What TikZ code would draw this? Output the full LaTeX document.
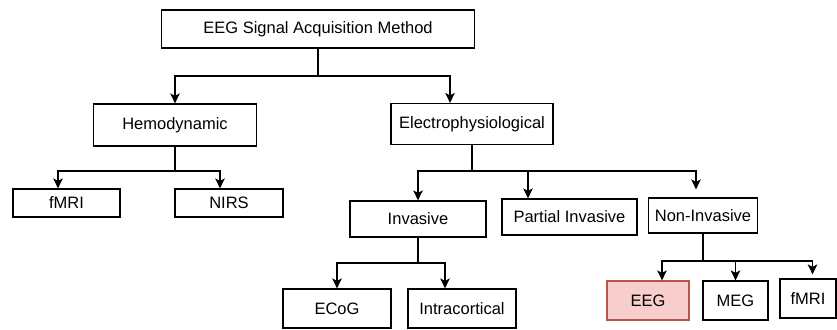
\documentclass[tikz,border=0pt]{standalone}
\usepackage{fontspec}
\setmainfont{Liberation Sans}
\usetikzlibrary{arrows.meta}

\definecolor{eegfill}{HTML}{F8CECC}
\definecolor{eegline}{HTML}{B85450}

\tikzset{
    box/.style={draw, rectangle, line width=1.2pt, inner sep=0pt, font=\fontsize{16.5}{19}\selectfont},
    link/.style={line width=1.3pt, -{Stealth[length=10pt, width=9.5pt, inset=2.5pt]}},
    stem/.style={line width=1.3pt}
}

\begin{document}
\begin{tikzpicture}[x=1pt, y=-1pt]
    \useasboundingbox (0,0) rectangle (837,329);

    % Root
    \node[box, minimum width=313pt, minimum height=38pt] (root) at (318,29) {EEG Signal Acquisition Method};

    % Two families
    \node[box, minimum width=163pt, minimum height=42pt] (hemo) at (175,125) {Hemodynamic};
    \node[box, minimum width=162pt, minimum height=41pt] (electro) at (472,124) {Electrophysiological};

    % Hemodynamic methods
    \node[box, minimum width=107pt, minimum height=28pt] (fmri) at (66.5,203) {fMRI};
    \node[box, minimum width=108pt, minimum height=28pt] (nirs) at (229,203) {NIRS};

    % Electrophysiological methods
    \node[box, minimum width=136pt, minimum height=36pt] (invasive) at (418,219) {Invasive};
    \node[box, minimum width=135pt, minimum height=36pt] (partial) at (569.5,217) {Partial Invasive};
    \node[box, minimum width=109pt, minimum height=35pt] (noninv) at (703,215.5) {Non-Invasive};

    % Invasive recordings
    \node[box, minimum width=108pt, minimum height=39pt] (ecog) at (337,308.5) {ECoG};
    \node[box, minimum width=108pt, minimum height=39pt] (intra) at (462,308.5) {Intracortical};

    % Non-invasive recordings
    \node[box, minimum width=82pt, minimum height=39pt, fill=eegfill, draw=eegline] (eeg) at (648,300.5) {EEG};
    \node[box, minimum width=65pt, minimum height=39pt] (meg) at (735.5,300.5) {MEG};
    \node[box, minimum width=56pt, minimum height=39pt] (fmritwo) at (808,298.5) {fMRI};

    % Root to families
    \draw[stem] (root.south) -- (318,76);
    \draw[link] (318,76) -| (hemo.north);
    \draw[link] (318,76) -| ([xshift=-22pt]electro.north);

    % Hemodynamic split
    \draw[stem] (hemo.south) -- (175,171);
    \draw[link] (175,171) -| ([xshift=-8.5pt]fmri.north);
    \draw[link] (175,171) -| ([xshift=-9pt]nirs.north);

    % Electrophysiological split
    \draw[stem] (electro.south) -- (472,171);
    \draw[link] (472,171) -| (invasive.north);
    \draw[link] (472,171) -| ([xshift=-41.5pt]partial.north);
    \draw[link, shorten >=8pt] (472,171) -| ([xshift=-7pt]noninv.north);

    % Invasive split
    \draw[stem] (invasive.south) -- (418,263);
    \draw[link] (418,263) -| (ecog.north);
    \draw[link] (418,263) -| ([xshift=-17pt]intra.north);

    % Non-invasive split
    \draw[stem] (noninv.south) -- (703,261);
    \draw[line width=2.4pt] (675,261) -- (729,261);
    \draw[link] (703,261) -| ([xshift=14pt]eeg.north);
    \draw[link] (703,261) -| (meg.north);
    \draw[link, shorten >=4pt] (703,261) -| ([xshift=4.5pt]fmritwo.north);
\end{tikzpicture}
\end{document}
